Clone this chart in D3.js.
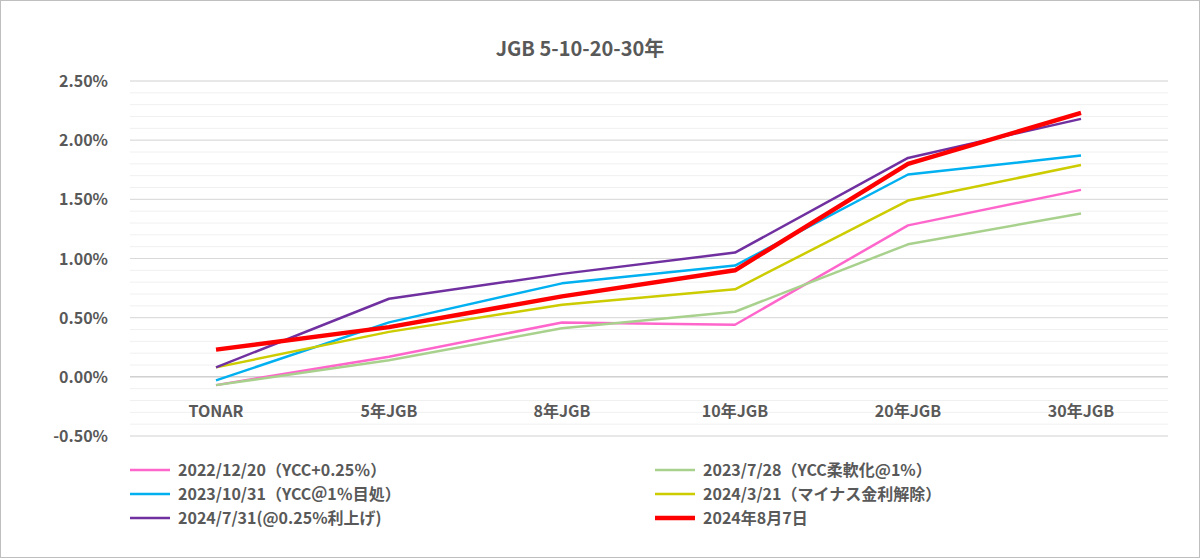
<!DOCTYPE html>
<html><head><meta charset="utf-8">
<script src="https://cdn.jsdelivr.net/npm/d3@7"></script>
<style>body{margin:0;background:#fff}svg{font-family:"Noto Sans CJK JP","Noto Sans",sans-serif}</style>
</head><body><svg id="c" width="1200" height="558"></svg>
<script>
const categories = ["TONAR","5年JGB","8年JGB","10年JGB","20年JGB","30年JGB"];
const seriesNames = ["2022/12/20（YCC+0.25％）","2023/7/28（YCC柔軟化@1%）","2023/10/31（YCC＠1％目処）","2024/3/21（マイナス金利解除）","2024/7/31(@0.25%利上げ)","2024年8月7日"];
const seriesColors = ["#ff66cc","#a9d18e","#00b0f0","#cccc00","#7030a0","#ff0000"];
const v20221220 = [-0.07,0.17,0.46,0.44,1.28,1.58];
const v20230728 = [-0.07,0.14,0.41,0.55,1.12,1.38];
const v20231031 = [-0.03,0.46,0.79,0.94,1.71,1.87];
const v20240321 = [0.08,0.38,0.61,0.74,1.49,1.79];
const v20240731 = [0.08,0.66,0.87,1.05,1.85,2.18];
const v20240807 = [0.23,0.42,0.68,0.90,1.80,2.23];
const yTicks = [-0.5,0,0.5,1,1.5,2,2.5];
const series = [v20221220,v20230728,v20231031,v20240321,v20240731,v20240807];

const svg = d3.select("#c");
svg.append("rect").attr("x",0.5).attr("y",0.5).attr("width",1199).attr("height",557).attr("fill","#fff").attr("stroke","#bfbfbf");
svg.append("text").attr("x",580).attr("y",56).attr("text-anchor","middle").attr("font-size",20).attr("font-weight","bold").attr("fill","#595959").text("JGB 5-10-20-30年");

const x = d3.scalePoint().domain(categories).range([216,1081]);
const y = d3.scaleLinear().domain([-0.5,2.5]).range([436,81]);

// minor gridlines
svg.append("g").selectAll("line").data(d3.range(-5,26).map(d=>d/10)).enter().append("line")
  .attr("x1",130).attr("x2",1168).attr("y1",d=>y(d)).attr("y2",d=>y(d)).attr("stroke","#f0f0f0");
svg.append("g").selectAll("line").data(yTicks).enter().append("line")
  .attr("x1",130).attr("x2",1168).attr("y1",d=>y(d)).attr("y2",d=>y(d)).attr("stroke",d=>d===0?"#bfbfbf":"#d9d9d9");

svg.append("g").selectAll("text").data(yTicks).enter().append("text")
  .attr("x",108).attr("y",d=>y(d)+6).attr("text-anchor","end").attr("font-size",16).attr("font-weight","bold").attr("fill","#595959")
  .text(d=>d.toFixed(2)+"%");
svg.append("g").selectAll("text").data(categories).enter().append("text")
  .attr("x",d=>x(d)).attr("y",417).attr("text-anchor","middle").attr("font-size",16).attr("font-weight","bold").attr("fill","#595959").text(d=>d);

const line = d3.line().x((d,i)=>x(categories[i])).y(d=>y(d));
series.forEach((s,k)=>{
  svg.append("path").datum(s).attr("d",line).attr("fill","none").attr("stroke",seriesColors[k]).attr("stroke-width",k===5?4.5:2.5).attr("stroke-linejoin","round");
});

const lg = svg.append("g").selectAll("g").data(seriesNames).enter().append("g")
  .attr("transform",(d,i)=>"translate("+(i%2?655:130)+","+(470+Math.floor(i/2)*24)+")");
lg.append("line").attr("x1",0).attr("x2",40).attr("stroke",(d,i)=>seriesColors[i]).attr("stroke-width",(d,i)=>i===5?4.5:2.5);
lg.append("text").attr("x",48).attr("y",6).attr("font-size",16).attr("font-weight","bold").attr("fill","#595959").text(d=>d);
</script></body></html>
